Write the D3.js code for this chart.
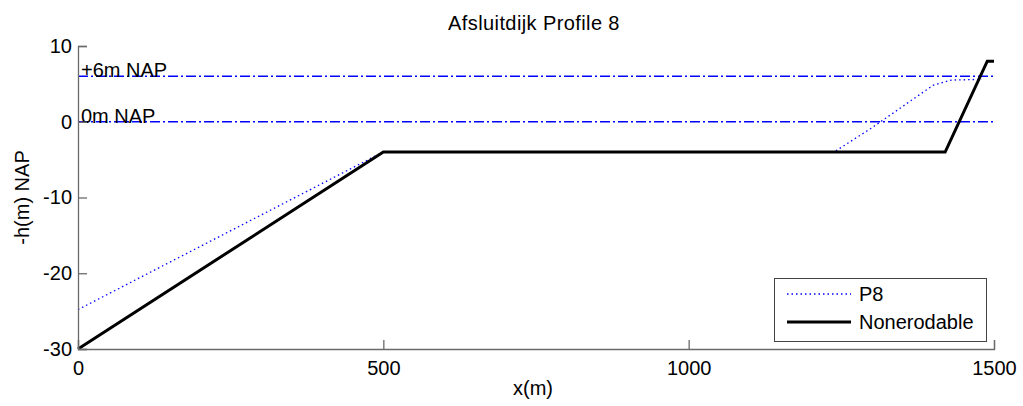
<!DOCTYPE html>
<html><head><meta charset="utf-8">
<script src="https://cdn.jsdelivr.net/npm/d3@7/dist/d3.min.js"></script>
<style>body{margin:0;background:#fff}svg{display:block;font-family:Arial,"Liberation Sans",sans-serif}</style>
</head><body><svg id="c" width="1023" height="406"></svg>
<script>
const title = "Afsluitdijk Profile 8";
const xTicks = [0, 500, 1000, 1500];
const yTicks = [-30, -20, -10, 0, 10];
const p8X = [0, 485, 500, 1238, 1300, 1400, 1430, 1480];
const p8Y = [-24.8, -4.6, -4, -4, -0.8, 4.8, 5.5, 5.6];
const nonX = [0, 500, 1420, 1489, 1500];
const nonY = [-30, -4, -4, 8, 8];
const refLevels = [6, 0];
const refLabels = ["+6m NAP", "0m NAP"];
const legendNames = ["P8", "Nonerodable"];

const FS = 20;
const svg = d3.select("#c");
const L = 78, R = 994, T = 46, B = 349;
const x = d3.scaleLinear().domain([0, 1500]).range([L, R]);
const y = d3.scaleLinear().domain([-30, 10]).range([B, T]);

// reference lines
refLevels.forEach((v, i) => {
  svg.append("line").attr("x1", x(0)).attr("x2", x(1500)).attr("y1", y(v)).attr("y2", y(v))
    .attr("stroke", "#0000ff").attr("stroke-width", 1.5).attr("stroke-dasharray", "10,3,2,3");
  svg.append("text").attr("x", x(0) + 3).attr("y", y(v) + 1).attr("font-size", FS).attr("fill", "#000")
    .text(refLabels[i]);
});

const line = d3.line().x(d => x(d[0])).y(d => y(d[1]));
svg.append("path").datum(p8X.map((v, i) => [v, p8Y[i]])).attr("d", line)
  .attr("fill", "none").attr("stroke", "#0000ff").attr("stroke-width", 1.3).attr("stroke-dasharray", "1.5,3");
svg.append("path").datum(nonX.map((v, i) => [v, nonY[i]])).attr("d", line)
  .attr("fill", "none").attr("stroke", "#000").attr("stroke-width", 3).attr("stroke-linejoin", "miter");

// axes
const fmt = d => String(d);
const xa = svg.append("g").attr("transform", `translate(0,${B})`)
  .call(d3.axisBottom(x).tickValues(xTicks).tickSize(-9).tickPadding(12).tickFormat(fmt));
const ya = svg.append("g").attr("transform", `translate(${L},0)`)
  .call(d3.axisLeft(y).tickValues(yTicks).tickSize(-9).tickPadding(6).tickFormat(fmt));
[xa, ya].forEach(g => {
  g.select(".domain").attr("stroke", "#6a6a6a").attr("stroke-width", 1.3);
  g.selectAll(".tick line").attr("stroke", "#6a6a6a").attr("stroke-width", 1.3);
  g.selectAll(".tick text").attr("font-size", FS).attr("fill", "#000").attr("font-family", "Arial,'Liberation Sans',sans-serif");
});

// titles
svg.append("text").attr("x", 534).attr("y", 30).attr("text-anchor", "middle").attr("font-size", FS)
  .attr("letter-spacing", 0.4).text(title);
svg.append("text").attr("x", 533).attr("y", 395).attr("text-anchor", "middle").attr("font-size", FS).text("x(m)");
svg.append("text").attr("transform", `translate(29,${(T + B) / 2}) rotate(-90)`).attr("text-anchor", "middle")
  .attr("font-size", FS).text("-h(m) NAP");

// legend
const lg = svg.append("g");
lg.append("rect").attr("x", 774.5).attr("y", 278.5).attr("width", 212).attr("height", 63)
  .attr("fill", "#fff").attr("stroke", "#444").attr("stroke-width", 1);
const ly = [294, 322];
lg.append("line").attr("x1", 787).attr("x2", 851).attr("y1", ly[0]).attr("y2", ly[0])
  .attr("stroke", "#0000ff").attr("stroke-width", 1.3).attr("stroke-dasharray", "1.5,3");
lg.append("line").attr("x1", 787).attr("x2", 851).attr("y1", ly[1]).attr("y2", ly[1])
  .attr("stroke", "#000").attr("stroke-width", 3);
legendNames.forEach((n, i) => {
  lg.append("text").attr("x", 859).attr("y", ly[i]).attr("dy", "0.36em").attr("font-size", FS).text(n);
});
</script></body></html>
